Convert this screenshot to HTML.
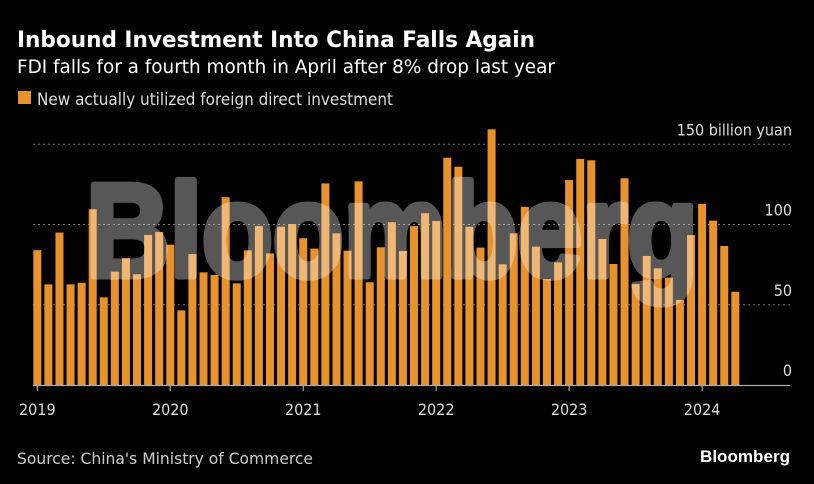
<!DOCTYPE html>
<html><head><meta charset="utf-8"><style>
html,body{margin:0;padding:0;background:#000;}
svg{display:block;font-family:"Liberation Sans","DejaVu Sans",sans-serif;}
</style></head><body>
<svg id="chart" width="814" height="484" viewBox="0 0 814 484" xmlns="http://www.w3.org/2000/svg">
<rect width="814" height="484" fill="#000"/>
<text x="17" y="47" fill="#fff" font-size="22" font-weight="bold" font-family="DejaVu Sans, sans-serif" textLength="518" lengthAdjust="spacingAndGlyphs">Inbound Investment Into China Falls Again</text>
<text x="17" y="73" fill="#fff" font-size="19" font-family="DejaVu Sans Condensed, DejaVu Sans, sans-serif" textLength="538" lengthAdjust="spacingAndGlyphs">FDI falls for a fourth month in April after 8% drop last year</text>
<rect x="18" y="91" width="13" height="13" fill="#e8922b"/>
<text x="37" y="105" fill="#ddd" font-size="17" font-family="DejaVu Sans Condensed, DejaVu Sans, sans-serif" textLength="356" lengthAdjust="spacingAndGlyphs">New actually utilized foreign direct investment</text>
<g id="grid"></g>
<g id="bars"></g>
<g opacity="0.34">
<text x="86" y="276" fill="#fff" stroke="#fff" stroke-width="7" stroke-linejoin="round" font-size="132" style="font-weight:bold" font-family="Liberation Sans, sans-serif" textLength="612" lengthAdjust="spacingAndGlyphs">Bloomberg</text>
</g>
<g id="axes"></g>
<text x="17" y="464" fill="#ccc" font-size="16" font-family="DejaVu Sans Condensed, DejaVu Sans, sans-serif" textLength="296" lengthAdjust="spacingAndGlyphs">Source: China's Ministry of Commerce</text>
<text x="790" y="462" fill="#fff" font-size="17" font-weight="bold" text-anchor="end" textLength="90" lengthAdjust="spacingAndGlyphs">Bloomberg</text>
</svg>
<script>
const values = [84,62.7,95,62.7,63.7,109.5,54.6,70.6,79,69,93.5,95.3,
87.4,46.5,81.6,70.2,68.5,117,63.3,83.9,99,82,98.6,100.3,
91.4,85,125.6,94.5,83.7,126.9,64,85.8,101.4,83.5,99,107,
102.2,141.6,136,98.6,85.6,159.3,75.2,94.5,111,86.2,66,76.4,
127.7,140.8,140,91,75.4,128.8,62.9,80.4,72.7,66.9,53,93.4,
112.8,102.4,86.6,58.1];
const yTicks = [0,50,100,150];
const yTickLabels = ["0","50","100","150 billion yuan"];
const xYears = [2019,2020,2021,2022,2023,2024];
const NS="http://www.w3.org/2000/svg";
const x0=37.3, step=11.08, baseY=385, pxPerUnit=1.605, barW=8;
function xPos(i){return x0+i*step;}
function yPos(v){return baseY-v*pxPerUnit;}
function mk(tag,attrs,parent){const e=document.createElementNS(NS,tag);for(const k in attrs)e.setAttribute(k,attrs[k]);parent.appendChild(e);return e;}
const grid=document.getElementById('grid'), bars=document.getElementById('bars'), axes=document.getElementById('axes');
yTicks.forEach((t,i)=>{
  if(t>0){const l=mk('line',{x1:33,x2:790,y1:yPos(t),y2:yPos(t),stroke:'#777','stroke-width':1,'stroke-dasharray':'2,3'},grid);
  
  }
  const tx=mk('text',{x:792,y:yPos(t)-9,fill:'#ddd','font-size':16,'text-anchor':'end','font-family':'DejaVu Sans Condensed, DejaVu Sans, sans-serif'},axes);
  tx.textContent=yTickLabels[i];
  
  
});
values.forEach((v,i)=>{
  const r=mk('rect',{x:xPos(i)-barW/2,y:yPos(v),width:barW,height:v*pxPerUnit,fill:'#e8922b'},bars);
  
  
});
const base=mk('line',{x1:33,x2:790,y1:baseY+0.5,y2:baseY+0.5,stroke:'#aaa','stroke-width':1.2},axes);


xYears.forEach((yr,k)=>{
  const x=xPos(k*12);
  const tk=mk('line',{x1:x,x2:x,y1:baseY,y2:baseY+6,stroke:'#aaa','stroke-width':1.2},axes);
  
  
  const t=mk('text',{x:x,y:415,fill:'#ddd','font-size':16,'text-anchor':'middle','font-family':'DejaVu Sans Condensed, DejaVu Sans, sans-serif'},axes);
  t.textContent=yr;
  
  
});
</script>
</body></html>
